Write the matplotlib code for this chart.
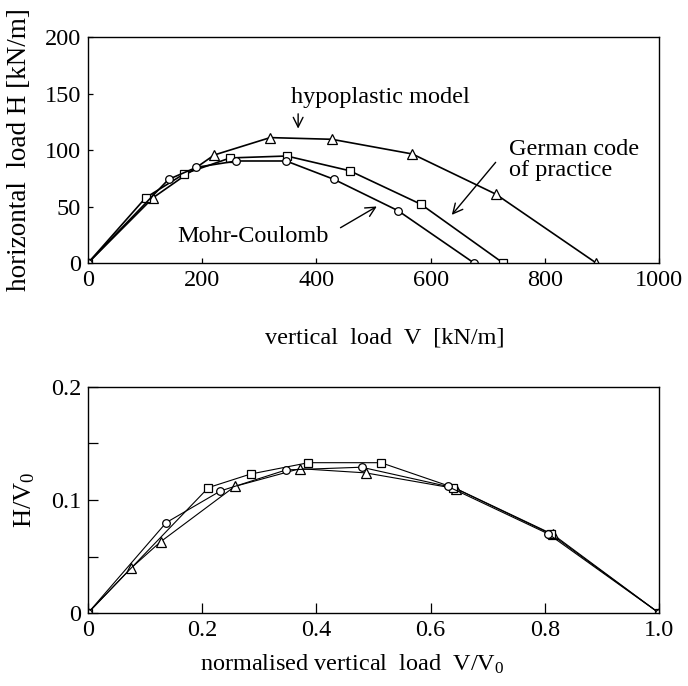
import matplotlib
matplotlib.use('Agg')
import matplotlib.pyplot as plt

plt.rcParams['font.family'] = ['Liberation Serif', 'DejaVu Serif']
plt.rcParams['mathtext.fontset'] = 'custom'
plt.rcParams['mathtext.rm'] = 'Liberation Serif'
plt.rcParams['mathtext.it'] = 'Liberation Serif:italic'
plt.rcParams['font.size'] = 17.5

# top chart: absolute loads [kN/m]
hypo_V = [0, 114, 221, 319, 427, 568, 714, 890]
hypo_H = [0, 57.8, 95.6, 111, 109.5, 96.5, 61, 0]
din_V = [0, 101, 168, 249, 348, 458, 583, 727]
din_H = [0, 57.8, 78.8, 93, 94.7, 81.7, 52, 0]
mc_V = [0, 141, 190, 260, 347, 431, 543, 676]
mc_H = [0, 74, 84.7, 90.3, 90.3, 74, 46.3, 0]

# bottom chart: normalised loads
n_hypo_x = [0, 0.075, 0.127, 0.257, 0.371, 0.486, 0.645, 0.814, 1.0]
n_hypo_y = [0, 0.0395, 0.063, 0.112, 0.1277, 0.124, 0.110, 0.0696, 0]
n_din_x = [0, 0.211, 0.285, 0.386, 0.513, 0.640, 0.810, 1.0]
n_din_y = [0, 0.111, 0.123, 0.133, 0.133, 0.111, 0.070, 0]
n_mc_x = [0, 0.137, 0.232, 0.347, 0.479, 0.630, 0.806, 1.0]
n_mc_y = [0, 0.080, 0.108, 0.1266, 0.129, 0.112, 0.070, 0]

fig = plt.figure(figsize=(6.88, 6.86), dpi=100)

# ---- top
ax1 = fig.add_axes([0.1279, 0.6166, 0.8300, 0.3294])
mk = dict(color='black', mfc='white', mec='black', lw=1.2, mew=0.9)
ax1.plot(hypo_V, hypo_H, marker='^', ms=6.5, **mk)
ax1.plot(din_V, din_H, marker='s', ms=5.5, **mk)
ax1.plot(mc_V, mc_H, marker='o', ms=5.5, **mk)
ax1.set_xlim(0, 1000)
ax1.set_ylim(0, 200)
ax1.set_xticks([0, 200, 400, 600, 800, 1000])
ax1.set_yticks([0, 50, 100, 150, 200])
ax1.tick_params(direction='in', length=3.5, width=0.9, pad=5)
ax1.set_xlabel('vertical  load  V  [kN/m]')
ax1.set_ylabel('horizontal  load H [kN/m]', fontsize=19.5)
ax1.xaxis.set_label_coords(0.52, -0.285)
ax1.yaxis.set_label_coords(-0.098, 0.5)

ax1.text(355, 141.6, 'hypoplastic model', ha='left', va='baseline')
ax1.annotate('', xy=(368, 116.5), xytext=(368, 134.5),
             arrowprops=dict(arrowstyle='->', color='black', lw=1.0))
ax1.text(737, 77, 'German code\nof practice', ha='left', va='baseline',
         linespacing=1.0)
ax1.annotate('', xy=(634, 40.7), xytext=(717, 91),
             arrowprops=dict(arrowstyle='->', color='black', lw=1.0))
ax1.text(157, 18.8, 'Mohr-Coulomb', ha='left', va='baseline')
ax1.annotate('', xy=(510, 51.3), xytext=(438, 30),
             arrowprops=dict(arrowstyle='->', color='black', lw=1.0))

# ---- bottom
ax2 = fig.add_axes([0.1279, 0.1064, 0.8300, 0.3295])
mk2 = dict(color='black', mfc='white', mec='black', lw=0.8, mew=0.9)
ax2.plot(n_hypo_x, n_hypo_y, marker='^', ms=6.5, **mk2)
ax2.plot(n_din_x, n_din_y, marker='s', ms=5.5, **mk2)
ax2.plot(n_mc_x, n_mc_y, marker='o', ms=5.5, **mk2)
ax2.set_xlim(0, 1.0)
ax2.set_ylim(0, 0.2)
ax2.set_xticks([0, 0.2, 0.4, 0.6, 0.8, 1.0])
ax2.set_xticklabels(['0', '0.2', '0.4', '0.6', '0.8', '1.0'])
ax2.set_yticks([0, 0.05, 0.1, 0.15, 0.2])
ax2.set_yticklabels(['0', '', '0.1', '', '0.2'])
ax2.tick_params(direction='in', length=7, width=0.9, pad=5)
ax2.set_xlabel(r'normalised vertical  load  V/V$_0$')
ax2.set_ylabel(r'H/V$_0$', fontsize=19)
ax2.xaxis.set_label_coords(0.462, -0.175)
ax2.yaxis.set_label_coords(-0.089, 0.5)

for ax in (ax1, ax2):
    for s in ax.spines.values():
        s.set_linewidth(1.0)

fig.savefig('out.png', dpi=100)
